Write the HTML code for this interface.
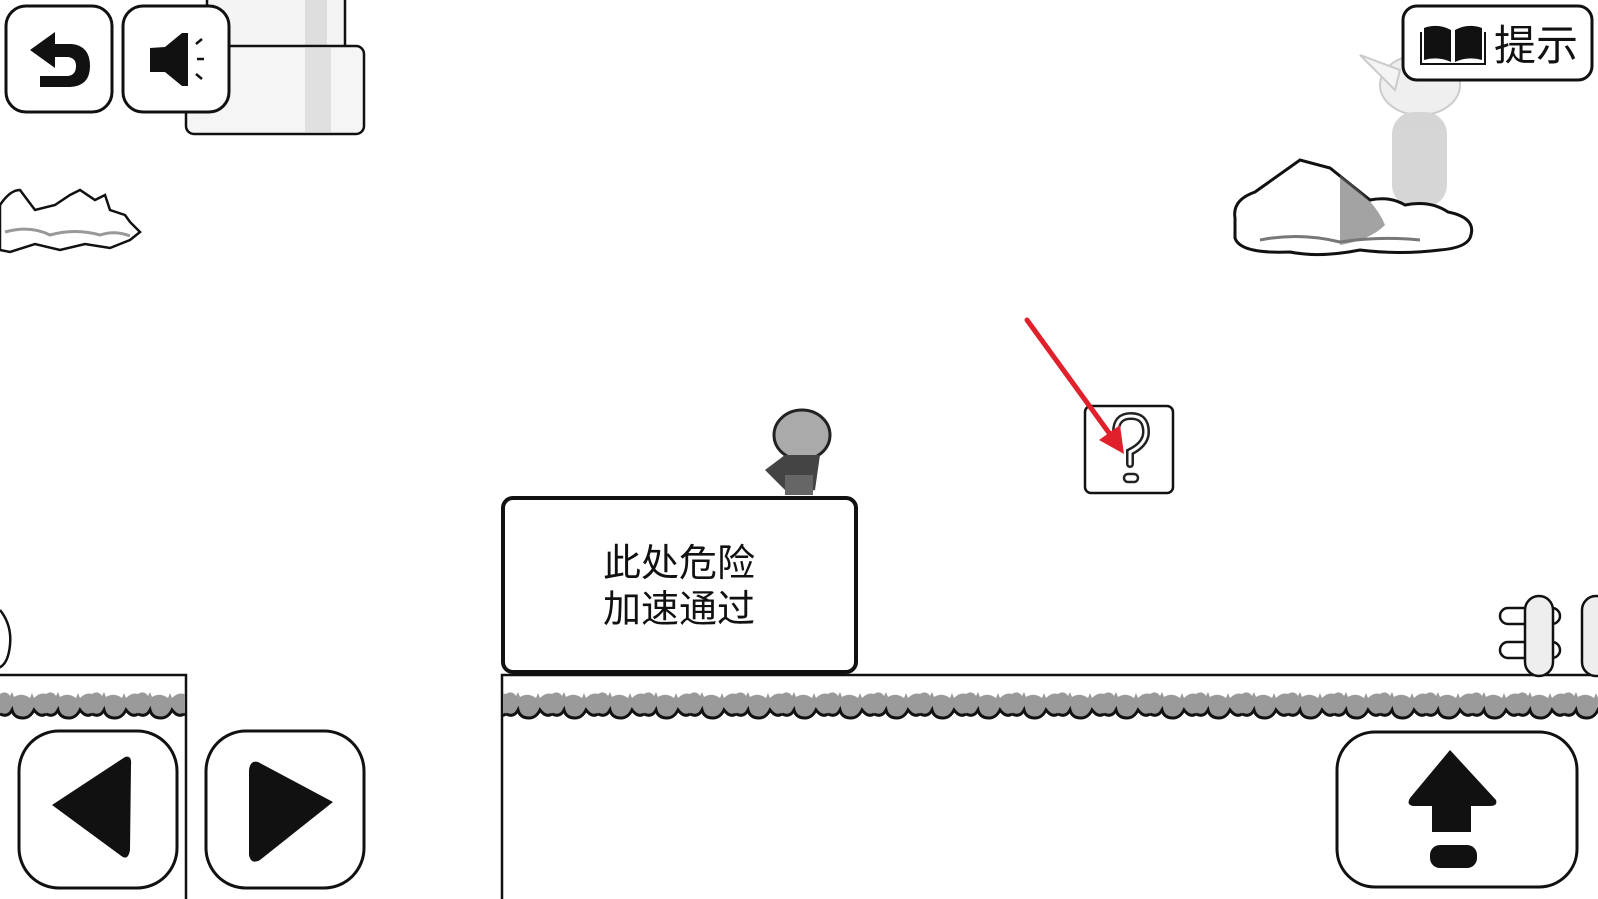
<!DOCTYPE html>
<html><head><meta charset="utf-8"><style>
html,body{margin:0;padding:0;background:#fff;}
svg{display:block}
</style></head><body>
<svg width="1598" height="899" viewBox="0 0 1598 899" xmlns="http://www.w3.org/2000/svg">
<defs>
<pattern id="grass" x="0" y="688" width="46" height="32" patternUnits="userSpaceOnUse">
<path d="M0 6 Q6 2 10 8 L12 4 L14 9 Q22 4 30 10 L32 5 L34 10 Q40 4 46 6 L46 26 Q40 30 34 22 Q30 30 23 30 Q14 30 12 22 Q8 30 0 26 Z" fill="#9a9a9a"/>
<path d="M0 26 Q8 30 12 22 Q14 30 23 30 Q30 30 34 22 Q40 30 46 26" fill="none" stroke="#111" stroke-width="3"/>
</pattern>
</defs>
<rect x="207" y="-5" width="138" height="60" fill="#f4f4f4" stroke="#111" stroke-width="2.5"/>
<rect x="305" y="0" width="22" height="50" fill="#dedede"/>
<rect x="186" y="46" width="178" height="88" rx="8" fill="#f5f5f5" stroke="#111" stroke-width="2.5"/>
<rect x="305" y="48" width="26" height="84" fill="#e0e0e0"/>
<rect x="6" y="6" width="106" height="106" rx="20" fill="#fff" stroke="#111" stroke-width="3"/>
<path d="M30 50 L55 32 L55 44 L72 44 Q90 46 90 66 Q90 86 70 87 L40 87 L40 76 L68 76 Q76 75 76 66 Q76 58 68 57 L55 57 L55 68 Z" fill="#111"/>
<rect x="123" y="6" width="106" height="106" rx="20" fill="#fff" stroke="#111" stroke-width="3"/>
<path d="M150 48 L165 47 L182 33 L188 33 L188 86 L182 86 L165 72 L150 72 Z" fill="#111"/>
<path d="M196 44 L202 39 M197 59 L204 59 M196 74 L202 79" stroke="#111" stroke-width="2.5"/>
<path d="M0 205 Q10 190 20 190 L35 210 L55 205 L70 195 L80 190 L95 200 L105 195 L110 210 L125 215 L130 222 L140 232 L130 240 L110 248 L85 244 L60 250 L35 244 L10 252 L0 250 Z" fill="#fff" stroke="#111" stroke-width="2.5"/>
<path d="M5 232 Q30 225 50 235 Q75 228 100 235 Q115 230 130 236" fill="none" stroke="#999" stroke-width="3"/>
<g opacity="0.3">
<ellipse cx="1420" cy="85" rx="40" ry="30" fill="#ccc" stroke="#555" stroke-width="2"/>
<path d="M1360 55 L1400 70 L1395 90 Z" fill="#ddd" stroke="#555" stroke-width="2"/>
<rect x="1392" y="112" width="55" height="95" rx="22" fill="#777"/>
</g>
<path d="M1235 218 Q1232 200 1255 192 L1300 160 L1330 168 L1370 200 Q1390 196 1405 205 Q1430 200 1448 212 Q1478 218 1470 238 Q1465 248 1440 250 Q1400 255 1360 250 Q1320 258 1290 252 Q1240 254 1235 238 Z" fill="#fff" stroke="#111" stroke-width="3"/>
<path d="M1340 175 Q1375 200 1385 225 Q1370 240 1340 245 Z" fill="#666" opacity="0.6"/>
<path d="M1260 240 Q1300 232 1340 242 Q1380 236 1420 240" fill="none" stroke="#777" stroke-width="3"/>
<rect x="1403" y="6" width="189" height="74" rx="14" fill="#fff" stroke="#111" stroke-width="3"/>
<path d="M1424 28 Q1438 23 1451 30 L1451 62 Q1438 56 1424 60 Z M1455 30 Q1468 23 1482 28 L1482 60 Q1468 56 1455 62 Z" fill="#111"/>
<path d="M1421 32 L1421 64 L1485 64 L1485 32" fill="none" stroke="#111" stroke-width="2"/>
<text x="1494" y="60" font-family="'Liberation Sans','Noto Sans CJK SC',sans-serif" font-size="42" fill="#111">提示</text>
<path d="M-2 675 L186 675 L186 899" fill="#fff" stroke="#111" stroke-width="2.5"/>
<rect x="0" y="688" width="185" height="32" fill="url(#grass)"/>
<path d="M0 610 Q12 625 10 645 Q8 665 -2 668" fill="none" stroke="#111" stroke-width="2.5"/>
<path d="M502 899 L502 675 L1600 675" fill="#fff" stroke="#111" stroke-width="2.5"/>
<rect x="503" y="688" width="1095" height="32" fill="url(#grass)"/>
<g stroke="#111" stroke-width="2.5" fill="#fff">
<rect x="1500" y="608" width="60" height="16" rx="8"/>
<rect x="1500" y="642" width="60" height="16" rx="8"/>
<rect x="1525" y="596" width="28" height="80" rx="14" fill="#eee"/>
<rect x="1582" y="596" width="28" height="80" rx="14" fill="#eee"/>
</g>
<rect x="503" y="498" width="353" height="174" rx="10" fill="#fff" stroke="#111" stroke-width="4"/>
<text x="679" y="576" text-anchor="middle" font-family="'Liberation Sans','Noto Sans CJK SC',sans-serif" font-size="38" fill="#111">此处危险</text>
<text x="679" y="622" text-anchor="middle" font-family="'Liberation Sans','Noto Sans CJK SC',sans-serif" font-size="38" fill="#111">加速通过</text>
<ellipse cx="802" cy="435" rx="28" ry="25" fill="#aaa" stroke="#222" stroke-width="3"/>
<path d="M765 470 L785 455 L820 455 L815 490 L790 495 Z" fill="#444"/>
<rect x="785" y="475" width="28" height="20" fill="#666"/>
<rect x="1085" y="406" width="88" height="87" rx="6" fill="#fff" stroke="#111" stroke-width="2.5"/>
<path d="M1116 432 Q1116 416 1131 416 Q1146 416 1146 432 Q1146 444 1130 452 L1130 464" fill="none" stroke="#222" stroke-width="8" stroke-linecap="round"/>
<path d="M1116 432 Q1116 416 1131 416 Q1146 416 1146 432 Q1146 444 1130 452 L1130 464" fill="none" stroke="#fff" stroke-width="3" stroke-linecap="round"/>
<rect x="1124" y="474" width="14" height="8" rx="4" fill="#fff" stroke="#222" stroke-width="2.5"/>
<line x1="1027" y1="320" x2="1112" y2="437" stroke="#e0202a" stroke-width="5" stroke-linecap="round"/>
<path d="M1124 454 L1099 440 L1120 425 Z" fill="#e0202a"/>
<rect x="19" y="731" width="158" height="157" rx="40" fill="#fff" stroke="#111" stroke-width="3"/>
<path d="M52 805 L125 757 Q132 755 131 765 L130 850 Q128 862 120 855 Z" fill="#111"/>
<rect x="206" y="731" width="158" height="157" rx="40" fill="#fff" stroke="#111" stroke-width="3"/>
<path d="M333 802 L258 762 Q250 760 249 770 L249 855 Q251 865 260 860 Z" fill="#111"/>
<rect x="1337" y="732" width="240" height="155" rx="38" fill="#fff" stroke="#111" stroke-width="3"/>
<path d="M1450 750 L1496 800 Q1498 806 1490 806 L1471 806 L1471 832 L1432 832 L1432 806 L1413 806 Q1406 805 1410 798 Z" fill="#111"/>
<rect x="1430" y="845" width="47" height="23" rx="10" fill="#111"/>
</svg>
</body></html>
